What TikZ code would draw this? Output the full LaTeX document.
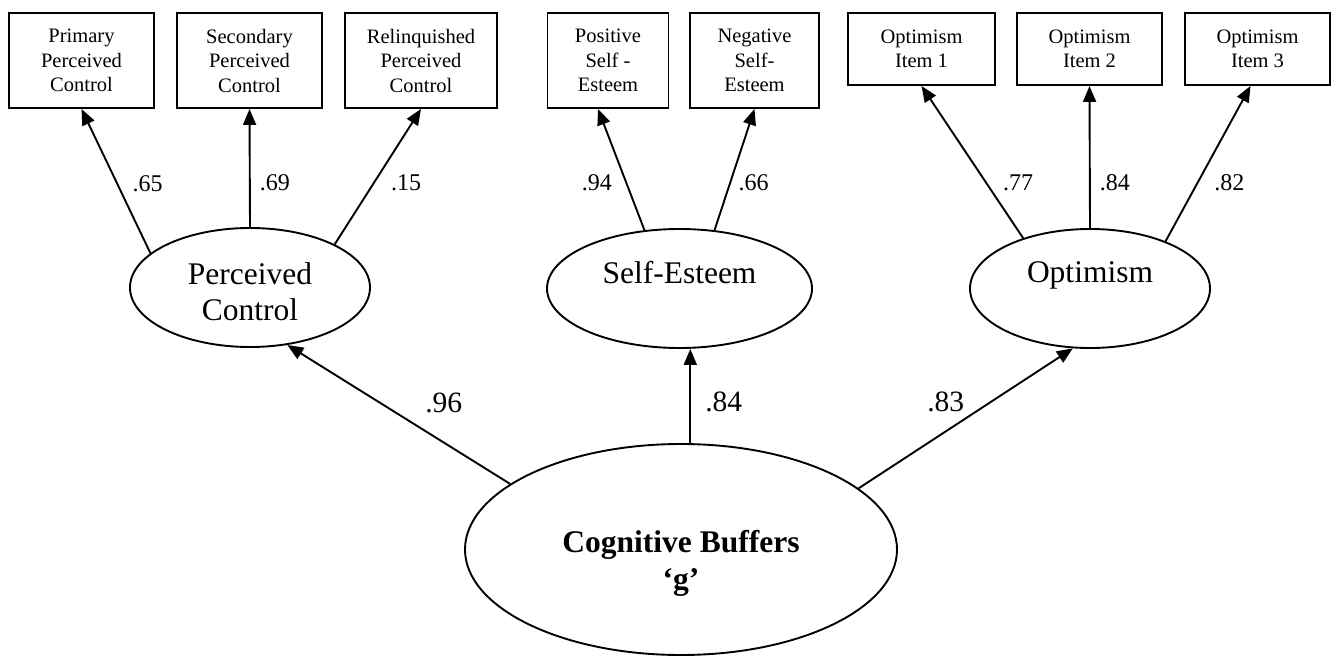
\documentclass[tikz,border=0pt]{standalone}
\usepackage{fontspec}
\setmainfont{Liberation Serif}
\usepackage{tikz}
\usetikzlibrary{positioning}
\usetikzlibrary{shapes}
\usetikzlibrary{shapes.geometric}
\usetikzlibrary{calc}
\usetikzlibrary{arrows.meta}

\begin{document}
\begin{tikzpicture}[x=1pt,y=-1pt,line width=1.9pt,
    item/.style={draw,rectangle,align=center,inner sep=0pt,font=\fontsize{20.5}{24.5}\selectfont},
    factor/.style={draw,ellipse,align=center,inner sep=0pt,minimum width=240pt,minimum height=119pt,font=\fontsize{31.5}{36}\selectfont},
    coef/.style={inner sep=0pt,font=\fontsize{24}{28}\selectfont},
    bigcoef/.style={inner sep=0pt,font=\fontsize{29.5}{34}\selectfont}]
          \useasboundingbox (0,0) rectangle (1334,656);
          \begin{scope}
            \node[item,minimum width=145pt,minimum height=95pt] (b1) at (81.5,60.5) {Primary\\Perceived\\Control};
            \node[item,minimum width=145pt,minimum height=95pt] (b2) at (249.5,60.5) {Secondary\\Perceived\\Control};
            \node[item,minimum width=152pt,minimum height=95pt] (b3) at (421,60.5) {Relinquished\\Perceived\\Control};
            \node[item,minimum width=121pt,minimum height=95pt] (b4) at (608,60.5) {Positive\\Self -\\Esteem};
            \node[item,minimum width=129pt,minimum height=95pt] (b5) at (754.5,60.5) {Negative\\Self-\\Esteem};
            \node[item,minimum width=147pt,minimum height=72pt] (b6) at (921.5,49) {Optimism\\Item 1};
            \node[item,minimum width=145pt,minimum height=72pt] (b7) at (1089.5,49) {Optimism\\Item 2};
            \node[item,minimum width=145pt,minimum height=72pt] (b8) at (1257.5,49) {Optimism\\Item 3};
            \node[factor,text height=65pt,text depth=0pt] (pc) at (250,287.5) {Perceived\\Control};
            \node[factor,minimum width=265pt,text depth=32.5pt] (se) at (679.5,288.5) {Self-Esteem};
            \node[factor,text depth=32.5pt] (opt) at (1090,288.5) {Optimism};
            \node[factor,minimum width=432pt,minimum height=211pt,text height=86pt,text depth=7pt,font=\fontsize{31.5}{37}\selectfont\bfseries] (cb) at (681,549.5) {Cognitive Buffers\\‘g’};
          \end{scope}
          \begin{scope}[every path/.style={->},>={Triangle[length=16pt,width=13pt]}]
            \draw (pc.161) -- node[coef,pos=.483,right=14.5pt] (w65) {.65} (b1.south);
            \draw (pc.north) -- node[coef,pos=.375,right=9pt] (w69) {.69} (b2.south);
            \draw (pc.27) -- node[coef,pos=.453,right=16.5pt] (w15) {.15} (b3.south);
            \draw (se.121) -- node[coef,pos=.39,left=13.5pt] (w94) {.94} ($(b4.south)+(-10,0)$);
            \draw (se.59) -- node[coef,pos=.39,right=7.5pt] (w66) {.66} (b5.south);
            \draw (opt.143) -- node[coef,pos=.363,right=16pt] (w77) {.77} (b6.south);
            \draw (opt.north) -- node[coef,pos=.32,right=9pt] (w84) {.84} (b7.south);
            \draw (opt.32) -- node[coef,pos=.375,right=16pt] (w82) {.82} ($(b8.south)+(-7,0)$);
            \draw (cb.159) -- node[bigcoef,pos=.585,right=44.5pt] (g96) {.96} (pc.-57);
            \draw (cb.85) -- node[bigcoef,pos=.4375,right=14pt] (g84) {.84} (cb.85 |- se.south);
            \draw (cb.19) -- node[bigcoef,pos=.614,left=25pt] (g83) {.83} (opt.-106);
          \end{scope}
        \end{tikzpicture}
\end{document}
